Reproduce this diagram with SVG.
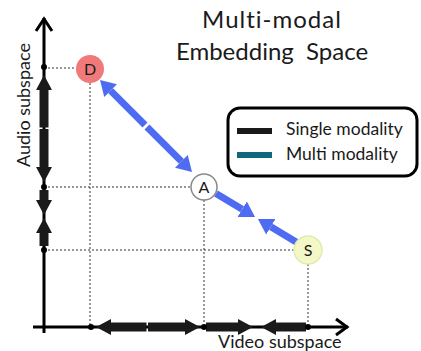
<svg xmlns="http://www.w3.org/2000/svg" width="421" height="351" viewBox="0 0 421 351">
<defs>
<marker id="bh" markerUnits="userSpaceOnUse" viewBox="0 -8 15 16" refX="0" refY="0" markerWidth="15" markerHeight="16" orient="auto"><path d="M0,-8 L15,0 L0,8 z" fill="#1a1a1a"/></marker>
<marker id="uh" markerUnits="userSpaceOnUse" viewBox="0 -9 15 18" refX="0" refY="0" markerWidth="15" markerHeight="18" orient="auto"><path d="M0,-9 L15,0 L0,9 z" fill="#4d6cf2"/></marker>
<style>
text{font-family:Lato,"Open Sans","Liberation Sans",sans-serif;fill:#1a1a1a}
.axis{stroke:#000;stroke-width:3;fill:none}
.dash{stroke:#333;stroke-width:1;stroke-dasharray:2 2;fill:none}
.bk{stroke:#1a1a1a;stroke-width:9;marker-end:url(#bh)}
.bl{stroke:#4d6cf2;stroke-width:7;marker-end:url(#uh)}
.dot{fill:#000}
.lbl{font-size:18px}
.nd{font-size:16px;text-anchor:middle}
</style>
</defs>
<g id="title">
<text x="272" y="28" font-size="24" letter-spacing="1" text-anchor="middle">Multi-modal</text>
<text x="272" y="60" font-size="24" text-anchor="middle" xml:space="preserve">Embedding  Space</text>
</g>
<g id="guides">
<path class="dash" d="M44,68 H76 M44,187 H191 M44,250 H294 M90,83 V327 M204,200 V327 M308,264 V327"/>
</g>
<g id="axes">
<path class="axis" d="M44,18 V333 M33,327 H348"/>
<path class="axis" d="M36,31 L44,19 L52,31 M336,319 L347,327 L336,335"/>
<text class="lbl" x="218" y="348">Video subspace</text>
<text class="lbl" transform="translate(30,167) rotate(-90)">Audio subspace</text>
</g>
<g id="connectors">
<line class="bk" x1="44" y1="127.5" x2="44" y2="90"/>
<line class="bk" x1="44" y1="129" x2="44" y2="167"/>
<line class="bk" x1="44" y1="190" x2="44" y2="200"/>
<line class="bk" x1="44" y1="246" x2="44" y2="233"/>
<line class="bk" x1="146.5" y1="327" x2="111" y2="327"/>
<line class="bk" x1="148" y1="327" x2="185" y2="327"/>
<line class="bk" x1="206" y1="327" x2="238" y2="327"/>
<line class="bk" x1="306" y1="327" x2="276" y2="327"/>
<line class="bl" x1="145" y1="125" x2="110.6" y2="90.6"/>
<line class="bl" x1="147" y1="127" x2="181.4" y2="161.4"/>
<line class="bl" x1="216" y1="193.5" x2="242.2" y2="209.2"/>
<line class="bl" x1="297" y1="242.5" x2="270.8" y2="226.8"/>
</g>
<g id="dots">
<circle class="dot" cx="44" cy="67" r="3"/>
<circle class="dot" cx="44" cy="187" r="3"/>
<circle class="dot" cx="44" cy="250" r="3"/>
<circle class="dot" cx="91" cy="327" r="3"/>
<circle class="dot" cx="204" cy="327" r="3"/>
<circle class="dot" cx="308" cy="327" r="3"/>
</g>
<g id="node-D">
<circle cx="90" cy="69" r="14" fill="#f07a7a"/>
<text class="nd" x="90" y="75">D</text>
</g>
<g id="node-A">
<circle cx="204" cy="187" r="13" fill="#fff" stroke="#8a8a8a" stroke-width="1.5"/>
<text class="nd" x="204" y="193">A</text>
</g>
<g id="node-S">
<circle cx="308" cy="250" r="14" fill="#f4f7c6" stroke="#e2ecb0" stroke-width="1.5"/>
<text class="nd" x="308" y="256">S</text>
</g>
<g id="legend">
<rect x="228" y="108" width="189" height="68" rx="12" fill="#fff" stroke="#000" stroke-width="3"/>
<rect x="237" y="128" width="35" height="6" fill="#1a1a1a"/>
<rect x="237" y="152" width="35" height="6" fill="#10697a"/>
<text x="286" y="135" font-size="17.5">Single modality</text>
<text x="286" y="160" font-size="17.5">Multi modality</text>
</g>
</svg>
